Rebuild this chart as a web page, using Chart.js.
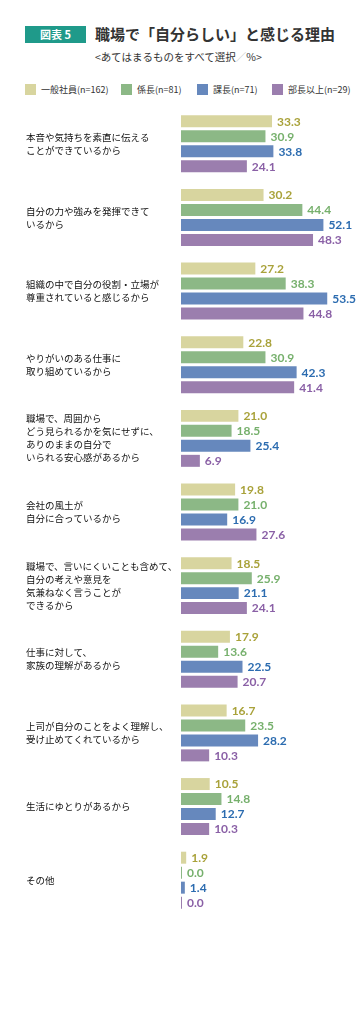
<!DOCTYPE html>
<html lang="ja">
<head>
<meta charset="utf-8">
<script src="https://cdn.jsdelivr.net/npm/chart.js@4"></script>
<style>
  html, body { margin: 0; padding: 0; background: #fff; }
  body { width: 364px; height: 1019px; position: relative; overflow: hidden;
         font-family: "Noto Sans CJK JP", "Noto Sans", sans-serif; color: #333; }
  .badge { position: absolute; left: 25px; top: 26px; width: 61px; height: 17px;
           background: #1f9a8a; color: #fff; font-size: 11px; font-weight: bold;
           line-height: 17px; text-align: center; }
  .title { position: absolute; left: 95px; top: 24px; font-size: 15px; font-weight: bold;
           color: #333; line-height: 20px; white-space: nowrap; }
  .sub { position: absolute; left: 95px; top: 50px; font-size: 10.5px; color: #333;
         line-height: 14px; white-space: nowrap; }
  .sub .sl { color: #bbb; }
  .lg { position: absolute; top: 84px; font-size: 9px; line-height: 12px; color: #333; white-space: nowrap; }
  .lg i { position: absolute; left: 0; top: 0; width: 11px; height: 11px; }
  .lg span { position: absolute; left: 16px; top: 0; }
  #wrap { position: absolute; left: 0; top: 100px; width: 364px; height: 830px; }
</style>
</head>
<body>
<div class="badge">図表 5</div>
<div class="title">職場で「自分らしい」と感じる理由</div>
<div class="sub">&lt;あてはまるものをすべて選択<span class="sl">／</span>%&gt;</div>
<div id="legend"></div>
<div id="wrap"><canvas id="barChart" width="364" height="830"></canvas></div>
<script>
// categories (multi-line labels)
const categories = [
    ['本音や気持ちを素直に伝える', 'ことができているから'],
    ['自分の力や強みを発揮できて', 'いるから'],
    ['組織の中で自分の役割・立場が', '尊重されていると感じるから'],
    ['やりがいのある仕事に', '取り組めているから'],
    ['職場で、周囲から', 'どう見られるかを気にせずに、', 'ありのままの自分で', 'いられる安心感があるから'],
    ['会社の風土が', '自分に合っているから'],
    ['職場で、言いにくいことも含めて、', '自分の考えや意見を', '気兼ねなく言うことが', 'できるから'],
    ['仕事に対して、', '家族の理解があるから'],
    ['上司が自分のことをよく理解し、', '受け止めてくれているから'],
    ['生活にゆとりがあるから'],
    ['その他']
];

const seriesNames = ['一般社員(n=162)', '係長(n=81)', '課長(n=71)', '部長以上(n=29)'];

const staffValues   = [33.3, 30.2, 27.2, 22.8, 21.0, 19.8, 18.5, 17.9, 16.7, 10.5, 1.9];
const chiefValues   = [30.9, 44.4, 38.3, 30.9, 18.5, 21.0, 25.9, 13.6, 23.5, 14.8, 0.0];
const managerValues = [33.8, 52.1, 53.5, 42.3, 25.4, 16.9, 21.1, 22.5, 28.2, 12.7, 1.4];
const directorValues = [24.1, 48.3, 44.8, 41.4, 6.9, 27.6, 24.1, 20.7, 10.3, 10.3, 0.0];

const barColors = ['#d8d59f', '#8cb886', '#6688bd', '#9b7eae'];
const textColors = ['#a9a23a', '#76b06c', '#2c6cb0', '#8a60a6'];

// html legend
const legendX = [25, 121, 197, 272];
const legendEl = document.getElementById('legend');
seriesNames.forEach(function(name, i) {
    const d = document.createElement('div');
    d.className = 'lg';
    d.style.left = legendX[i] + 'px';
    d.innerHTML = '<i style="background:' + barColors[i] + '"></i><span>' + name + '</span>';
    legendEl.appendChild(d);
});

// value labels next to each bar
const valueLabels = {
    id: 'valueLabels',
    afterDatasetsDraw(chart) {
        const ctx = chart.ctx;
        ctx.save();
        ctx.font = 'bold 12px Lato, "Noto Sans", sans-serif';
        ctx.textBaseline = 'middle';
        ctx.textAlign = 'left';
        chart.data.datasets.forEach(function(ds, i) {
            const meta = chart.getDatasetMeta(i);
            meta.data.forEach(function(bar, j) {
                ctx.fillStyle = textColors[i];
                ctx.fillText(ds.data[j].toFixed(1), bar.x + 5, bar.y + 0.5);
            });
        });
        ctx.restore();
    }
};

const allValues = [staffValues, chiefValues, managerValues, directorValues];

const ctx = document.getElementById('barChart').getContext('2d');
const barChart = new Chart(ctx, {
    type: 'bar',
    data: {
        labels: categories,
        datasets: allValues.map(function(vals, i) {
            return {
                label: seriesNames[i],
                data: vals,
                backgroundColor: barColors[i],
                borderWidth: 0,
                minBarLength: 1,
                categoryPercentage: 0.814,
                barPercentage: 0.8
            };
        })
    },
    options: {
        indexAxis: 'y',
        responsive: false,
        animation: false,
        layout: {
            padding: { left: 26, right: 19, top: 7, bottom: 13 }
        },
        scales: {
            x: {
                display: false,
                min: 0,
                max: 60
            },
            y: {
                grid: { display: false },
                border: { display: false },
                afterFit: function(axis) { axis.width = 155; },
                ticks: {
                    crossAlign: 'far',
                    color: '#111',
                    padding: 0,
                    autoSkip: false,
                    font: { family: '"Noto Sans CJK JP", sans-serif', size: 9.5, lineHeight: 1.37 }
                }
            }
        },
        plugins: {
            legend: { display: false },
            tooltip: { enabled: false }
        }
    },
    plugins: [valueLabels]
});
</script>
</body>
</html>
